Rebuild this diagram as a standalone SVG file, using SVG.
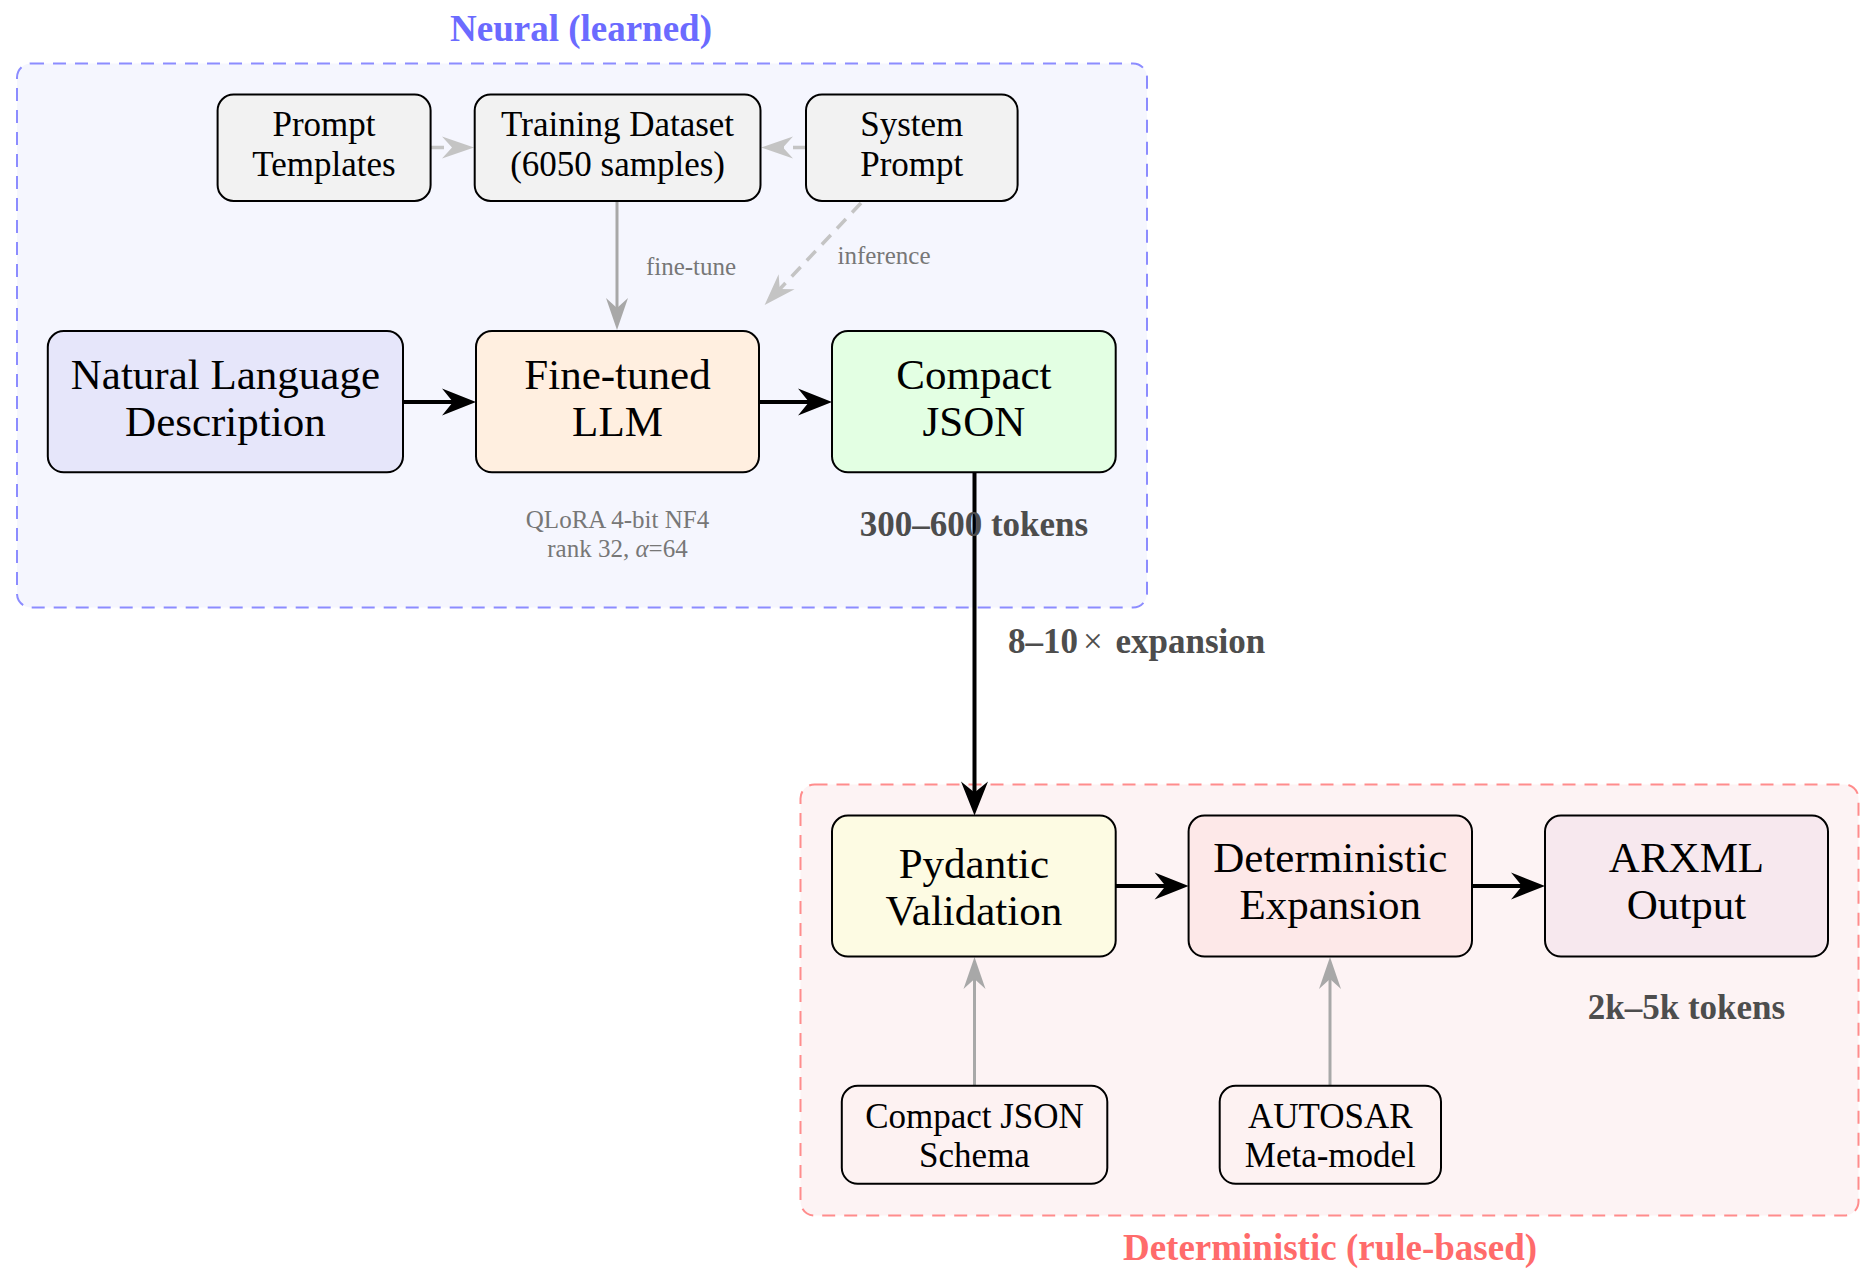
<svg xmlns="http://www.w3.org/2000/svg" width="1875" height="1277" viewBox="0 0 1875 1277">
<defs>
<style>
.node{stroke:#000;stroke-width:2}
.big{font-family:"Liberation Serif",serif;font-size:43px;fill:#000;text-anchor:middle}
.sm{font-family:"Liberation Serif",serif;font-size:35px;fill:#000;text-anchor:middle}
.lbl{font-family:"Liberation Serif",serif;font-size:25px;fill:#777;text-anchor:middle}
.blbl{font-family:"Liberation Serif",serif;font-size:35px;font-weight:bold;fill:#4d4d4d}
.title{font-family:"Liberation Serif",serif;font-size:37px;font-weight:bold;text-anchor:middle}
.blk{stroke:#000;stroke-width:4;fill:none}
.gry{stroke:#a8a8a8;stroke-width:3;fill:none}
.dsh{stroke:#c4c4c4;stroke-width:3.5;fill:none;stroke-dasharray:13 9}
</style>
<marker id="ab" markerUnits="userSpaceOnUse" markerWidth="44" markerHeight="32" viewBox="-20 -16 44 32" refX="0" refY="0" orient="auto">
<path d="M20,0 L-14,-13.5 L-3,0 L-14,13.5 Z" fill="#000"/>
</marker>
<marker id="ag" markerUnits="userSpaceOnUse" markerWidth="44" markerHeight="32" viewBox="-20 -16 44 32" refX="0" refY="0" orient="auto">
<path d="M18,0 L-14,-11 L-4,0 L-14,11 Z" fill="#a8a8a8"/>
</marker>
<marker id="ad" markerUnits="userSpaceOnUse" markerWidth="44" markerHeight="32" viewBox="-20 -16 44 32" refX="0" refY="0" orient="auto">
<path d="M18,0 L-14,-11 L-4,0 L-14,11 Z" fill="#c4c4c4"/>
</marker>
</defs>
<rect width="1875" height="1277" fill="#fff"/>

<g id="neural-group">
<rect x="17" y="63.5" width="1130" height="544" rx="14" fill="#f5f6fe" stroke="#8c8cff" stroke-width="2" stroke-dasharray="13 9"/>
<text class="title" x="581" y="41" fill="#6b6bff">Neural (learned)</text>
</g>
<g id="det-group">
<rect x="800.5" y="784.5" width="1058" height="431" rx="14" fill="#fdf3f4" stroke="#ff8c8c" stroke-width="2" stroke-dasharray="13 9"/>
<text class="title" x="1330" y="1260" fill="#ff6b6b">Deterministic (rule-based)</text>
</g>

<g id="connectors">
<line class="dsh" x1="431" y1="147.5" x2="456" y2="147.5" marker-end="url(#ad)"/>
<line class="dsh" x1="806" y1="147.5" x2="779" y2="147.5" marker-end="url(#ad)"/>
<line class="gry" x1="617" y1="201" x2="617" y2="312" marker-end="url(#ag)"/>
<line class="dsh" x1="861" y1="203" x2="777" y2="292" marker-end="url(#ad)"/>
<line class="blk" x1="403" y1="402" x2="456" y2="402" marker-end="url(#ab)"/>
<line class="blk" x1="759" y1="402" x2="812" y2="402" marker-end="url(#ab)"/>
<line class="blk" x1="974.5" y1="472.5" x2="974.5" y2="795.5" marker-end="url(#ab)"/>
<line class="blk" x1="1115.7" y1="886" x2="1168.6" y2="886" marker-end="url(#ab)"/>
<line class="blk" x1="1472" y1="886" x2="1525" y2="886" marker-end="url(#ab)"/>
<line class="gry" x1="974.5" y1="1086" x2="974.5" y2="975" marker-end="url(#ag)"/>
<line class="gry" x1="1330" y1="1086" x2="1330" y2="975" marker-end="url(#ag)"/>
<text class="lbl" x="691" y="275">fine-tune</text>
<text class="lbl" x="884" y="264">inference</text>
<text class="blbl" x="1008" y="653">8–10<tspan dx="5" font-weight="normal">×</tspan><tspan dx="4"> expansion</tspan></text>
</g>

<g id="prompt-templates">
<rect class="node" x="217.6" y="94.5" width="213" height="106.4" rx="16" fill="#f2f2f2"/>
<text class="sm" x="324" y="136">Prompt</text>
<text class="sm" x="324" y="175.5">Templates</text>
</g>
<g id="training-dataset">
<rect class="node" x="474.7" y="94.5" width="285.8" height="106.4" rx="16" fill="#f2f2f2"/>
<text class="sm" x="617.6" y="136">Training Dataset</text>
<text class="sm" x="617.6" y="175.5">(6050 samples)</text>
</g>
<g id="system-prompt">
<rect class="node" x="806" y="94.5" width="211.6" height="106.4" rx="16" fill="#f2f2f2"/>
<text class="sm" x="911.8" y="136">System</text>
<text class="sm" x="911.8" y="175.5">Prompt</text>
</g>
<g id="nl-description">
<rect class="node" x="47.8" y="331" width="355.2" height="141.3" rx="16" fill="#e6e6fa"/>
<text class="big" x="225.4" y="388.5">Natural Language</text>
<text class="big" x="225.4" y="435.5">Description</text>
</g>
<g id="fine-tuned-llm">
<rect class="node" x="476" y="331" width="283" height="141.3" rx="16" fill="#ffefe0"/>
<text class="big" x="617.5" y="388.5">Fine-tuned</text>
<text class="big" x="617.5" y="435.5">LLM</text>
<text class="lbl" x="617.5" y="528">QLoRA 4-bit NF4</text>
<text class="lbl" x="617.5" y="557">rank 32, <tspan font-style="italic">α</tspan>=64</text>
</g>
<g id="compact-json">
<rect class="node" x="832" y="331" width="283.7" height="141.3" rx="16" fill="#e3ffe3"/>
<text class="big" x="973.9" y="388.5">Compact</text>
<text class="big" x="973.9" y="435.5">JSON</text>
<text class="blbl" x="973.9" y="536" text-anchor="middle">300–600 tokens</text>
</g>
<g id="pydantic-validation">
<rect class="node" x="832" y="815.5" width="283.7" height="141.1" rx="16" fill="#fdfbe3"/>
<text class="big" x="973.9" y="877.5">Pydantic</text>
<text class="big" x="973.9" y="924.5">Validation</text>
</g>
<g id="deterministic-expansion">
<rect class="node" x="1188.6" y="815.5" width="283.4" height="141.1" rx="16" fill="#fde8e8"/>
<text class="big" x="1330.3" y="871.5">Deterministic</text>
<text class="big" x="1330.3" y="918.5">Expansion</text>
</g>
<g id="arxml-output">
<rect class="node" x="1545" y="815.5" width="283" height="141.1" rx="16" fill="#f7e8ee"/>
<text class="big" x="1686.5" y="871.5">ARXML</text>
<text class="big" x="1686.5" y="918.5">Output</text>
<text class="blbl" x="1686.5" y="1019" text-anchor="middle">2k–5k tokens</text>
</g>
<g id="schema">
<rect class="node" x="841.8" y="1085.8" width="265.5" height="98" rx="16" fill="#fdf2f2"/>
<text class="sm" x="974.5" y="1127.5">Compact JSON</text>
<text class="sm" x="974.5" y="1166.5">Schema</text>
</g>
<g id="meta-model">
<rect class="node" x="1219.7" y="1085.8" width="221.3" height="98" rx="16" fill="#fdf2f2"/>
<text class="sm" x="1330.3" y="1127.5">AUTOSAR</text>
<text class="sm" x="1330.3" y="1166.5">Meta-model</text>
</g>
</svg>
